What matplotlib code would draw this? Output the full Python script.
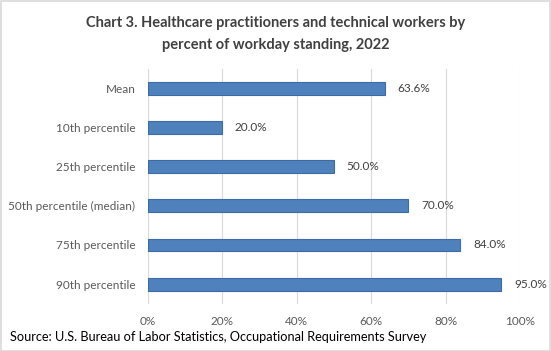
import matplotlib
matplotlib.use("Agg")
import matplotlib.pyplot as plt
from matplotlib.patches import Rectangle
from matplotlib.ticker import FuncFormatter

categories = ["Mean", "10th percentile", "25th percentile", "50th percentile (median)",
              "75th percentile", "90th percentile"]
values = [63.6, 20.0, 50.0, 70.0, 84.0, 95.0]
x_ticks = [0, 20, 40, 60, 80, 100]

plt.rcParams['font.family'] = ['Lato', 'DejaVu Sans']
txt = '#595959'

fig = plt.figure(figsize=(5.51, 3.51), dpi=100)
ax = fig.add_axes([0.2686, 0.135, 0.9437 - 0.2686, 0.803 - 0.135])

y = list(range(len(categories)))
ax.barh(y, values, height=0.33, color='#4f81bd', edgecolor='#3a6ca8', linewidth=0.8, zorder=3)
for yi, v in zip(y, values):
    ax.annotate(f"{v:.1f}%", (v, yi), xytext=(9, 0), textcoords='offset points',
                va='center', ha='left', fontsize=8.5, color='#404040')

ax.set_xlim(0, 100)
ax.set_ylim(len(categories) - 0.5, -0.5)
ax.set_yticks(y)
ax.set_yticklabels(categories, fontsize=8.5, color=txt)
ax.set_xticks(x_ticks)
ax.xaxis.set_major_formatter(FuncFormatter(lambda v, p: f"{v:.0f}%"))
ax.tick_params(axis='x', labelsize=8.5, colors=txt, length=0, pad=9)
ax.tick_params(axis='y', length=0, pad=9)
ax.grid(axis='x', color='#d9d9d9', linewidth=0.8, zorder=0)
for s in ax.spines.values():
    s.set_visible(False)

fig.text(0.5, 0.935, "Chart 3. Healthcare practitioners and technical workers by",
         ha='center', va='center', fontsize=10.5, fontweight='bold', color='#404040')
fig.text(0.5, 0.873, "percent of workday standing, 2022",
         ha='center', va='center', fontsize=10.5, fontweight='bold', color='#404040')
fig.text(0.018, 0.04, "Source: U.S. Bureau of Labor Statistics, Occupational Requirements Survey",
         ha='left', va='center', fontsize=9.2, color='black')

fig.patches.append(Rectangle((0.001, 0.001), 0.997, 0.997, transform=fig.transFigure,
                             fill=False, edgecolor='#d9d9d9', linewidth=1.2))
fig.savefig("out.png", dpi=100)
